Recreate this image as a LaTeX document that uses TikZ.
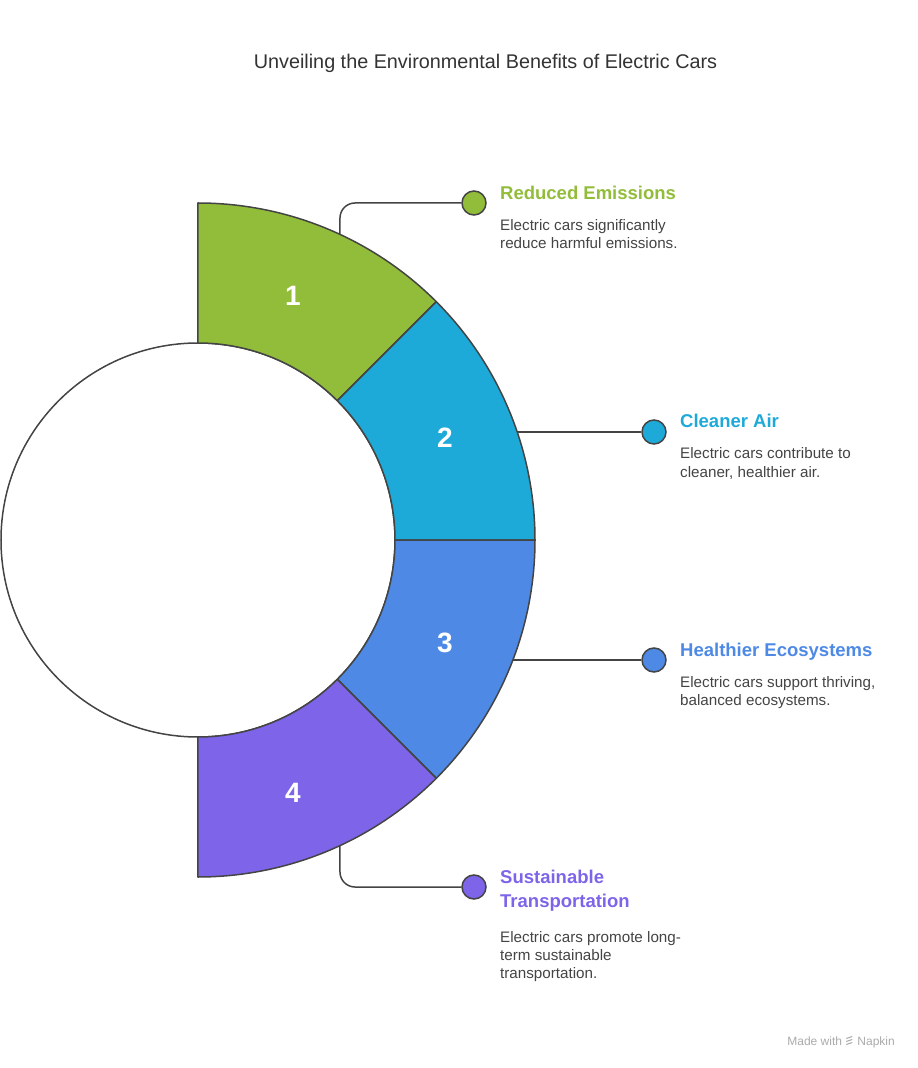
\documentclass[tikz,border=0pt]{standalone}
\usepackage{fontspec}
\setmainfont{Liberation Sans}
\usepackage{xcolor}
\usepackage{tikz}
\usetikzlibrary{positioning,calc}
\definecolor{ecogreen}{RGB}{146,189,58}
\definecolor{ecocyan}{RGB}{30,170,216}
\definecolor{ecoblue}{RGB}{77,137,229}
\definecolor{ecopurple}{RGB}{126,100,232}
\definecolor{ecoline}{RGB}{68,68,68}
\definecolor{ecotext}{RGB}{68,68,68}
\definecolor{ecotitle}{RGB}{51,51,51}
\definecolor{ecofoot}{RGB}{170,170,170}

\begin{document}
\begin{tikzpicture}[x=1pt,y=1pt,
    seg/.style={draw=ecoline, line width=1.5pt, line join=round},
    dot/.style={circle, draw=ecoline, line width=1.5pt, minimum size=24pt, inner sep=0pt},
    link/.style={draw=ecoline, line width=1.5pt, rounded corners=15pt},
    head/.style={anchor=base west, inner sep=0pt, font=\fontsize{18.5}{24}\selectfont\bfseries},
    body/.style={anchor=base west, inner sep=0pt, align=left, text=ecotext, font=\fontsize{15.2}{18}\selectfont},
    num/.style={text=white, font=\fontsize{28}{30}\selectfont\bfseries}]
    \useasboundingbox (-198,-528) rectangle (720,540);

    % Title
    \node[anchor=base, inner sep=0pt, text=ecotitle, font=\fontsize{19.8}{24}\selectfont] (title) at (287.5,471) {Unveiling the Environmental Benefits of Electric Cars};

    % Ring
    \draw[seg, fill=white] (0,0) circle (197pt);
    \foreach \a/\c/\n/\p in {90/ecogreen/1/{(95,244)}, 45/ecocyan/2/{(247,102)}, 0/ecoblue/3/{(247,-103)}, -45/ecopurple/4/{(95,-253)}} {
        \draw[seg, fill=\c] (\a:337) arc[start angle=\a, end angle=\a-45, radius=337pt]
            -- (\a-45:197) arc[start angle=\a-45, end angle=\a, radius=197pt] -- cycle;
        \node[num] (n\n) at \p {\n};
    }

    % Ends of the connectors on the ring
    \coordinate (c1) at (65.08:337);
    \coordinate (c2) at (18.69:337);
    \coordinate (c3) at (-20.86:337);
    \coordinate (c4) at (-65.08:337);

    % Dots
    \node[dot, fill=ecogreen] (d1) at (276,337) {};
    \node[dot, fill=ecocyan] (d2) at (456,108) {};
    \node[dot, fill=ecoblue] (d3) at (456,-120) {};
    \node[dot, fill=ecopurple] (d4) at (276,-347) {};

    % Connectors
    \draw[link] (c1) |- (d1.west);
    \draw[link] (c2 |- d2.west) -- (d2.west);
    \draw[link] (c3 |- d3.west) -- (d3.west);
    \draw[link] (c4) |- (d4.west);

    % Texts (multi-line nodes sit on their last line)
    \node[head, text=ecogreen] (h1) at (302,340) {Reduced Emissions};
    \node[body] (b1) at (302,291) {Electric cars significantly\\reduce harmful emissions.};

    \node[head, text=ecocyan] (h2) at (482,112) {Cleaner Air};
    \node[body] (b2) at (482,63) {Electric cars contribute to\\cleaner, healthier air.};

    \node[head, text=ecoblue] (h3) at (482,-116) {Healthier Ecosystems};
    \node[body] (b3) at (482,-165) {Electric cars support thriving,\\balanced ecosystems.};

    \node[head, text=ecopurple, align=left] (h4) at (302,-367) {Sustainable\\Transportation};
    \node[body] (b4) at (302,-438) {Electric cars promote long-\\term sustainable\\transportation.};

    % Footer
    \node[anchor=base east, inner sep=0pt, text=ecofoot, font=\fontsize{12}{14}\selectfont] (foot2) at (697,-505) {Napkin};
    \coordinate (logo) at ($(foot2.base west)+(-4,0)$);
    \foreach \k in {0,1,2} {
        \draw[ecofoot, line width=1pt] ($(logo)+(-7,0.5+3*\k)$) -- ($(logo)+(-1,2.5+3*\k)$);
    }
    \node[anchor=base east, inner sep=0pt, text=ecofoot, font=\fontsize{12}{14}\selectfont] (foot1) at ($(logo)+(-11,0)$) {Made with};
\end{tikzpicture}
\end{document}
